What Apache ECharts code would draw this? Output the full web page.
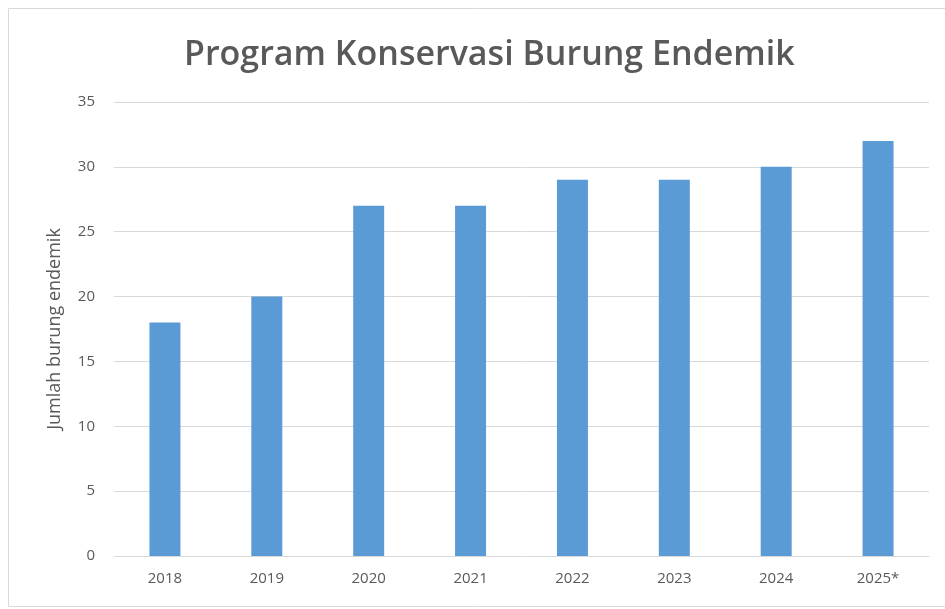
<!DOCTYPE html>
<html><head><meta charset="utf-8">
<script src="https://cdn.jsdelivr.net/npm/echarts@6/dist/echarts.min.js"></script>
<style>html,body{margin:0;padding:0;background:#fff}#c{width:945px;height:609px}</style>
</head><body><div id="c"></div>
<script>
var categories = ['2018','2019','2020','2021','2022','2023','2024','2025*'];
var values = [18, 20, 27, 27, 29, 29, 30, 32];
var yTicks = {min: 0, max: 35, interval: 5};

var chart = echarts.init(document.getElementById('c'), null, {renderer: 'canvas'});
chart.setOption({
  animation: false,
  backgroundColor: '#fff',
  title: {
    text: 'Program Konservasi Burung Endemik',
    left: 179, top: 33,
    textStyle: {fontFamily: 'Open Sans', fontWeight: 600, fontSize: 34, color: '#595959'}
  },
  graphic: [{
    type: 'rect', shape: {x: 8.5, y: 8.5, width: 940, height: 598},
    style: {fill: 'none', stroke: '#d9d9d9', lineWidth: 1}, silent: true
  }],
  grid: {left: 114, right: 16, top: 102, bottom: 53},
  xAxis: {
    type: 'category', data: categories,
    axisLine: {lineStyle: {color: '#d9d9d9'}},
    axisTick: {show: false},
    axisLabel: {color: '#595959', fontFamily: 'Open Sans', fontSize: 15, margin: 15}
  },
  yAxis: {
    type: 'value', min: yTicks.min, max: yTicks.max, interval: yTicks.interval,
    name: 'Jumlah burung endemik', nameLocation: 'middle', nameGap: 50,
    nameTextStyle: {color: '#595959', fontFamily: 'Open Sans', fontSize: 18},
    axisLine: {show: false}, axisTick: {show: false},
    axisLabel: {color: '#595959', fontFamily: 'Open Sans', fontSize: 15, margin: 19},
    splitLine: {lineStyle: {color: '#d9d9d9'}}
  },
  series: [{
    type: 'bar', data: values, barWidth: 31,
    itemStyle: {color: '#5b9bd5'}
  }]
});
</script></body></html>
